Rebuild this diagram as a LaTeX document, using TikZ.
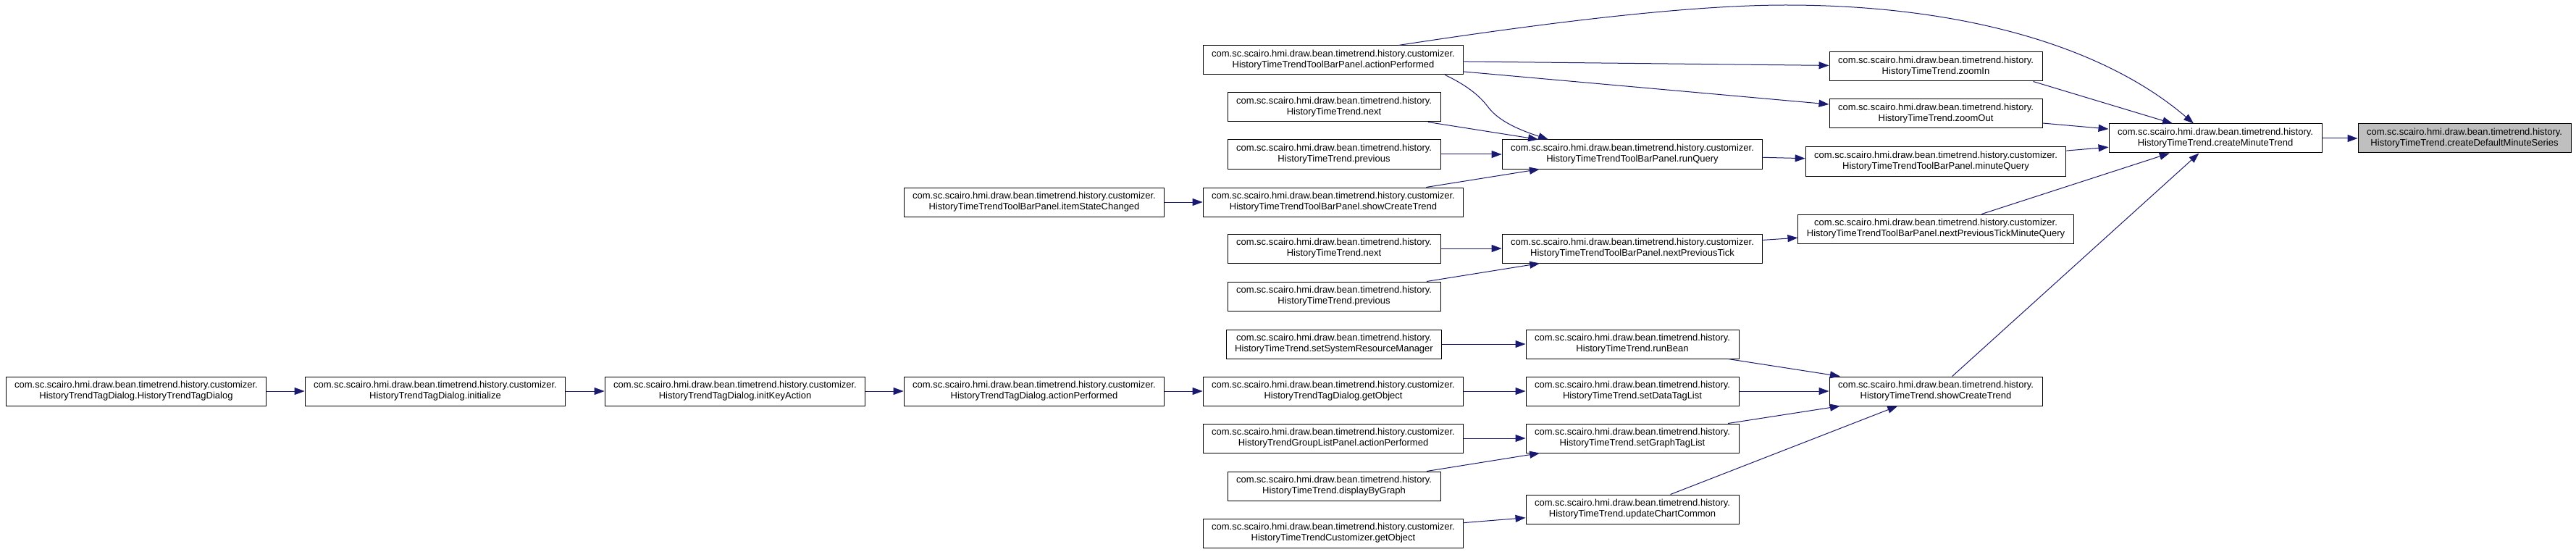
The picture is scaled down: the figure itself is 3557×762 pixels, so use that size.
\documentclass[tikz,border=0pt]{standalone}
\usepackage{fontspec}
\setmainfont{Liberation Sans}
\usepackage{tikz}
\usetikzlibrary{arrows.meta}
\definecolor{edgeblue}{HTML}{191970}
\definecolor{leafgray}{HTML}{BFBFBF}
\newcommand{\histpkg}{com.sc.scairo.hmi.draw.bean.timetrend.history.}
\newcommand{\custpkg}{com.sc.scairo.hmi.draw.bean.timetrend.history.customizer.}

\begin{document}
\begin{tikzpicture}[x=1pt,y=-1pt,
    fn/.style={draw=black,fill=white,line width=1pt,align=center,inner xsep=12pt,inner ysep=2pt,minimum height=40pt,font=\fontsize{13}{15}\selectfont},
    call/.style={draw=edgeblue,line width=1pt,-{Triangle[length=14pt,width=10pt]}}]
    \useasboundingbox (0,0) rectangle (3557,762);
    % tag dialog chain
    \node[fn] (dlgctor) at (188,540) {\custpkg\\HistoryTrendTagDialog.HistoryTrendTagDialog};
    \node[fn] (dlginit) at (601,540) {\custpkg\\HistoryTrendTagDialog.initialize};
    \node[fn] (dlgkey) at (1015,540) {\custpkg\\HistoryTrendTagDialog.initKeyAction};
    \node[fn] (dlgaction) at (1428,540) {\custpkg\\HistoryTrendTagDialog.actionPerformed};
    \node[fn] (itemstate) at (1428,279) {\custpkg\\HistoryTimeTrendToolBarPanel.itemStateChanged};
    % callers column
    \node[fn] (tbaction) at (1841,83) {\custpkg\\HistoryTimeTrendToolBarPanel.actionPerformed};
    \node[fn] (nextA) at (1842,148) {\histpkg\\HistoryTimeTrend.next};
    \node[fn] (prevA) at (1842,213) {\histpkg\\HistoryTimeTrend.previous};
    \node[fn] (tbshow) at (1841,279) {\custpkg\\HistoryTimeTrendToolBarPanel.showCreateTrend};
    \node[fn] (nextB) at (1842,343) {\histpkg\\HistoryTimeTrend.next};
    \node[fn] (prevB) at (1842,409) {\histpkg\\HistoryTimeTrend.previous};
    \node[fn] (setsys) at (1842,475) {\histpkg\\HistoryTimeTrend.setSystemResourceManager};
    \node[fn] (dlgget) at (1841,540) {\custpkg\\HistoryTrendTagDialog.getObject};
    \node[fn] (grpaction) at (1841,605) {\custpkg\\HistoryTrendGroupListPanel.actionPerformed};
    \node[fn] (display) at (1842,671) {\histpkg\\HistoryTimeTrend.displayByGraph};
    \node[fn] (custget) at (1841,736) {\custpkg\\HistoryTimeTrendCustomizer.getObject};
    % middle column
    \node[fn] (runquery) at (2254,213) {\custpkg\\HistoryTimeTrendToolBarPanel.runQuery};
    \node[fn] (nexttick) at (2254,343) {\custpkg\\HistoryTimeTrendToolBarPanel.nextPreviousTick};
    \node[fn] (runbean) at (2254,475) {\histpkg\\HistoryTimeTrend.runBean};
    \node[fn] (setdata) at (2254,540) {\histpkg\\HistoryTimeTrend.setDataTagList};
    \node[fn] (setgraph) at (2254,605) {\histpkg\\HistoryTimeTrend.setGraphTagList};
    \node[fn] (updchart) at (2254,703) {\histpkg\\HistoryTimeTrend.updateChartCommon};
    % callees of createMinuteTrend
    \node[fn] (zoomin) at (2673,92) {\histpkg\\HistoryTimeTrend.zoomIn};
    \node[fn] (zoomout) at (2673,157) {\histpkg\\HistoryTimeTrend.zoomOut};
    \node[fn] (minquery) at (2673,223) {\custpkg\\HistoryTimeTrendToolBarPanel.minuteQuery};
    \node[fn] (ticktmq) at (2673,316) {\custpkg\\HistoryTimeTrendToolBarPanel.nextPreviousTickMinuteQuery};
    \node[fn] (htshow) at (2673,540) {\histpkg\\HistoryTimeTrend.showCreateTrend};
    \node[fn] (mintrend) at (3059,191) {\histpkg\\HistoryTimeTrend.createMinuteTrend};
    \node[fn,fill=leafgray] (defseries) at (3403,191) {\histpkg\\HistoryTimeTrend.createDefaultMinuteSeries};
    % straight calls
    \foreach \a/\b in {dlgctor/dlginit,dlginit/dlgkey,dlgkey/dlgaction,dlgaction/dlgget,
        dlgget/setdata,setdata/htshow,setsys/runbean,runbean/htshow,grpaction/setgraph,
        display/setgraph,setgraph/htshow,custget/updchart,updchart/htshow,htshow/mintrend,
        nextB/nexttick,prevB/nexttick,nexttick/ticktmq,ticktmq/mintrend,itemstate/tbshow,
        tbshow/runquery,nextA/runquery,prevA/runquery,runquery/minquery,minquery/mintrend,
        tbaction/zoomin,tbaction/zoomout,zoomout/mintrend,mintrend/defseries}
        \draw[call] (\a) -- (\b);
    % bent calls
    \draw[call] ([xshift=-13pt]zoomin.south east) -- ([xshift=-59pt]mintrend.north);
    \draw[call] ([xshift=-26pt]tbaction.south east) .. controls (2030,120) and (2045,135) .. (2055,148)
        .. controls (2070,168) and (2100,180) .. ([xshift=-116pt]runquery.north);
    \draw[call] ([xshift=90pt]tbaction.north) .. controls (2130,32) and (2330,7) .. (2466,7)
        .. controls (2700,7) and (2900,60) .. ([xshift=-30pt]mintrend.north);
\end{tikzpicture}
\end{document}
